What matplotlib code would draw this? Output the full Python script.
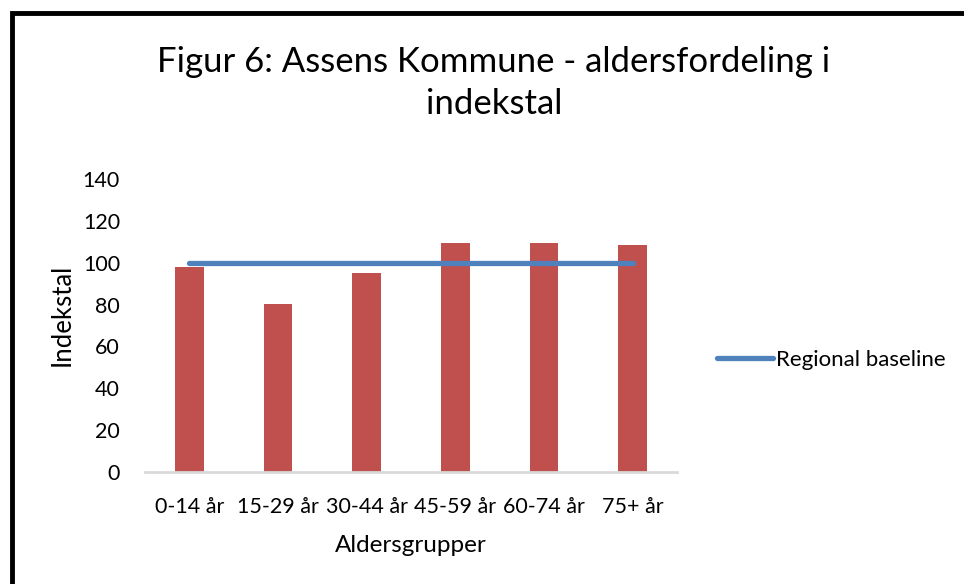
import matplotlib
matplotlib.use("Agg")
import matplotlib.pyplot as plt
from matplotlib.patches import Rectangle
import numpy as np

# data
aldersgrupper = ['0-14 år', '15-29 år', '30-44 år', '45-59 år', '60-74 år', '75+ år']
indekstal = [98, 80.5, 95, 109.5, 109.5, 108.5]
baseline = [100, 100, 100, 100, 100, 100]

plt.rcParams['font.family'] = ['Lato', 'DejaVu Sans']

fig = plt.figure(figsize=(9.64, 5.84), dpi=100)
ax = fig.add_axes([145/964, 1 - 472/584, (677 - 145)/964, (472 - 179)/584])

x = np.arange(len(aldersgrupper))
ax.bar(x, indekstal, width=0.32, color='#C0504D', zorder=2)
ax.plot(x, baseline, color='#4F81BD', linewidth=3.8, solid_capstyle='round',
        zorder=3, label='Regional baseline')

ax.set_xlim(-0.5, len(aldersgrupper) - 0.5)
ax.set_ylim(0, 140)
ax.set_yticks(range(0, 141, 20))
ax.set_xticks(x)
ax.set_xticklabels(aldersgrupper)
ax.tick_params(axis='both', length=0, labelsize=15.5, colors='black')
ax.tick_params(axis='x', pad=18)
ax.tick_params(axis='y', pad=18)

for side in ['top', 'right', 'left']:
    ax.spines[side].set_visible(False)
ax.spines['bottom'].set_color('#d9d9d9')
ax.spines['bottom'].set_linewidth(2)

# aksetitler
fig.text(62/964, 1 - 315/584, 'Indekstal', rotation=90, ha='center', va='center', fontsize=18.5)
fig.text(411/964, 1 - 545/584, 'Aldersgrupper', ha='center', va='center', fontsize=17.5)

fig.text(494/964, 1 - 83/584, 'Figur 6: Assens Kommune - aldersfordeling i\nindekstal',
         ha='center', va='center', fontsize=25, linespacing=1.35)

ax.legend(loc='center left', bbox_to_anchor=(717/964, 1 - 360/584),
          bbox_transform=fig.transFigure, frameon=False, fontsize=16,
          handlelength=2.5, handletextpad=0.15, borderaxespad=0, borderpad=0)

# ramme (kun venstre og top er synlige i udsnittet)
fig.add_artist(Rectangle((12/964, -0.2), 1.5, 1.2 - 13/584, transform=fig.transFigure,
                         fill=False, edgecolor='black', linewidth=3.5, clip_on=False))

fig.savefig('out.png', dpi=100)
